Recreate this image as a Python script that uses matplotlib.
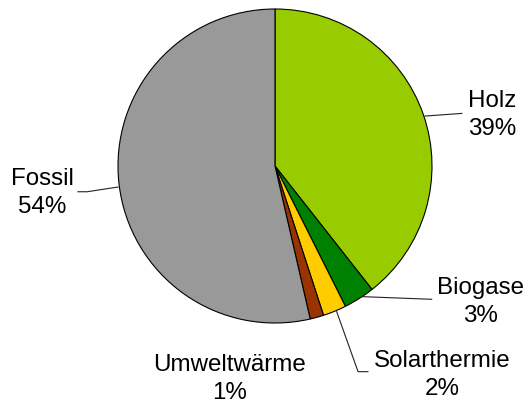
import matplotlib
matplotlib.use("Agg")
import matplotlib.pyplot as plt

categories = ["Holz", "Biogase", "Solarthermie", "Umweltwärme", "Fossil"]
values = [39.4, 3.2, 2.4, 1.4, 53.6]
colors = ["#99CC00", "#008000", "#FFCC00", "#993300", "#999999"]

plt.rcParams['font.family'] = ['Liberation Sans', 'DejaVu Sans']

W, H = 528, 407
fig = plt.figure(figsize=(W / 100, H / 100), dpi=100)
cx, cy, r = 275, 166, 157
ax = fig.add_axes([(cx - r) / W, (H - cy - r) / H, 2 * r / W, 2 * r / H])
ax.pie(values, colors=colors, startangle=90, counterclock=False, radius=1,
       wedgeprops=dict(edgecolor="black", linewidth=0.8))
ax.set_xlim(-1, 1)
ax.set_ylim(-1, 1)
ax.set_aspect("equal")
ax.axis("off")

total = sum(values)
pcts = [f"{round(v / total * 100):.0f}%" for v in values]

label_pos = [(1.382, 0.322), (1.306, -0.864), (1.067, -1.331), (-0.287, -1.357), (-1.481, -0.169)]
leaders = [
    [(0.955, 0.318), (1.19, 0.335)],
    [(0.552, -0.832), (0.998, -0.849)],
    [(0.393, -0.928), (0.529, -1.310), (0.592, -1.310)],
    None,
    [(-1.0, -0.134), (-1.197, -0.164), (-1.255, -0.164)],
]

for name, pct, pos, lead in zip(categories, pcts, label_pos, leaders):
    ax.text(pos[0], pos[1], f"{name}\n{pct}", ha="center", va="center",
            fontsize=17.4, linespacing=1.35, clip_on=False)
    if lead:
        xs = [p[0] for p in lead]
        ys = [p[1] for p in lead]
        ax.plot(xs, ys, color="#222222", linewidth=0.8, clip_on=False)

fig.savefig("out.png", dpi=100)
